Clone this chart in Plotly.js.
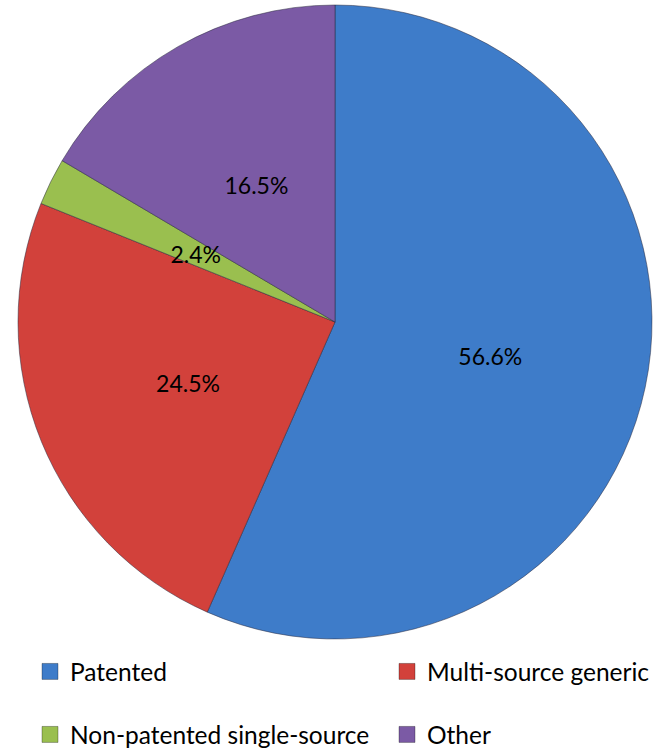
<!DOCTYPE html>
<html>
<head>
<meta charset="utf-8">
<script src="https://cdn.plot.ly/plotly-3.0.1.min.js"></script>
<style>
  html, body { margin: 0; padding: 0; background: #ffffff; }
  #chart { width: 665px; height: 749px; }
</style>
</head>
<body>
<div id="chart"></div>
<script>
// Share of spending by product category
const categories = ['Patented', 'Multi-source generic', 'Non-patented single-source', 'Other'];
const shares = [56.6, 24.5, 2.4, 16.5];
const sliceColors = ['#3e7cc9', '#d2413b', '#9abf4f', '#7b5aa5'];

const W = 665, H = 749;
const cx = 335, cy = 322;     // pie centre, px
const R = 317;                // pie radius, px

// Transparent ring that carries the percentage labels at about half the radius.
// Wide slices are pushed out with pull; narrow slices keep their label near the rim of the ring.
const labelR = 167;
const labelHole = 0.38;
const labelPull = shares.map(v => (v >= 5 ? 0.26 : 0));
const labelDy = 1;

function domainFor(r, dy) {
  const y0 = cy + (dy || 0);
  return {
    x: [(cx - r) / W, (cx + r) / W],
    y: [1 - (y0 + r) / H, 1 - (y0 - r) / H]
  };
}

const pieFont = { family: 'Lato, "Open Sans", sans-serif', size: 23, color: '#000000' };

// Coloured slices
const pie = {
  type: 'pie',
  labels: categories,
  values: shares,
  sort: false,
  direction: 'clockwise',
  rotation: 0,
  marker: { colors: sliceColors, line: { color: 'rgba(40,40,60,0.5)', width: 1 } },
  textinfo: 'none',
  hoverinfo: 'label+percent',
  showlegend: false,
  domain: domainFor(R)
};

const maxPull = Math.max.apply(null, labelPull);
const labels = {
  type: 'pie',
  labels: categories,
  values: shares,
  sort: false,
  direction: 'clockwise',
  rotation: 0,
  hole: labelHole,
  pull: labelPull,
  marker: { colors: categories.map(() => 'rgba(0,0,0,0)'), line: { width: 0 } },
  texttemplate: '%{value:.1f}%',
  textposition: 'inside',
  insidetextorientation: 'horizontal',
  textfont: pieFont,
  hoverinfo: 'skip',
  showlegend: false,
  domain: domainFor(labelR * (1 + maxPull), labelDy)
};

// Legend: one legend per entry, arranged as two rows of two
const legendNames = ['legend', 'legend2', 'legend3', 'legend4'];
const legendX = [30, 387, 30, 387];
const legendY = [671.5, 671.5, 734.5, 734.5];

const legendTraces = categories.map((name, i) => ({
  type: 'scatter',
  mode: 'markers',
  x: [null],
  y: [null],
  name: name,
  marker: { symbol: 'square', size: 16, color: sliceColors[i], line: { color: 'rgba(0,0,0,0.3)', width: 1 } },
  legend: legendNames[i],
  hoverinfo: 'skip'
}));

const layout = {
  width: W,
  height: H,
  margin: { l: 0, r: 0, t: 0, b: 0, autoexpand: false },
  paper_bgcolor: '#ffffff',
  plot_bgcolor: '#ffffff',
  xaxis: { visible: false, domain: [0, 0.01] },
  yaxis: { visible: false, domain: [0, 0.01] },
  uniformtext: { minsize: 23, mode: 'show' }
};

legendNames.forEach((key, i) => {
  layout[key] = {
    orientation: 'h',
    xref: 'paper', yref: 'paper',
    x: legendX[i] / W, xanchor: 'left',
    y: 1 - legendY[i] / H, yanchor: 'middle',
    itemwidth: 30,
    font: { family: 'Lato, "Open Sans", sans-serif', size: 24.5, color: '#000000' },
    bgcolor: 'rgba(0,0,0,0)',
    borderwidth: 0
  };
});

Plotly.newPlot('chart', [pie, labels].concat(legendTraces), layout, { displayModeBar: false });
</script>
</body>
</html>
